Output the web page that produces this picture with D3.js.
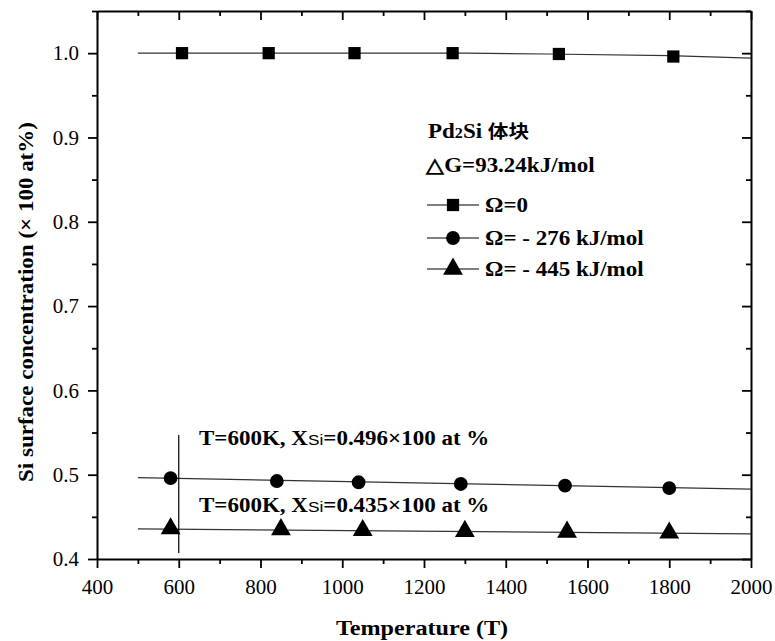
<!DOCTYPE html>
<html><head><meta charset="utf-8">
<script src="https://cdn.jsdelivr.net/npm/d3@7"></script>
<style>body{margin:0;background:#fff}svg{display:block}</style>
</head><body>
<script>
// ---- data ----
const xTicks = [400, 600, 800, 1000, 1200, 1400, 1600, 1800, 2000];
const yTicks = [0.4, 0.5, 0.6, 0.7, 0.8, 0.9, 1.0];
const seriesNames = ["Ω=0", "Ω= - 276 kJ/mol", "Ω= - 445 kJ/mol"];
const omega0T = [608, 820, 1030, 1270, 1530, 1810];
const omega0V = [1.0, 1.0, 1.0, 1.0, 0.999, 0.996];
const omega276T = [580, 840, 1040, 1290, 1545, 1800];
const omega276V = [0.496, 0.4925, 0.491, 0.489, 0.487, 0.484];
const omega445T = [580, 850, 1050, 1300, 1550, 1800];
const omega445V = [0.436, 0.435, 0.434, 0.433, 0.432, 0.431];
// fitted lines (read endpoints / bends)
const fit0T = [500, 1300, 1500, 1800, 2000];
const fit0V = [1.0, 1.0, 0.999, 0.997, 0.994];
const fit276T = [500, 2000];
const fit276V = [0.4965, 0.4828];
const fit445T = [500, 2000];
const fit445V = [0.4358, 0.4297];
const markerT = 600;
const markerRange = [0.407, 0.547];
const note1 = {pre: "T=600K, X", sub: "Si", post: "=0.496×100 at %", y: 0.5355};
const note2 = {pre: "T=600K, X", sub: "Si", post: "=0.435×100 at %", y: 0.4555};

const W = 775, H = 641;
const m = {l: 97, r: 24, t: 11, b: 82};
const SERIF = "'Liberation Serif', 'Times New Roman', serif";
const SX = 1.15; // horizontal stretch of the bold labels in the reference
const svg = d3.select("body").append("svg").attr("width", W).attr("height", H)
  .style("font-family", SERIF);

const x = d3.scaleLinear().domain([400, 2000]).range([m.l, W - m.r]);
const y = d3.scaleLinear().domain([0.4, 1.05]).range([H - m.b, m.t]);

const xMinor = d3.range(400, 2001, 100).filter(v => v % 200 !== 0);
const yMinor = d3.range(0.45, 1.051, 0.1).map(v => +v.toFixed(2));

function styleAxis(g) {
  g.attr("font-family", SERIF);
  g.select(".domain").attr("stroke", "#000").attr("stroke-width", 2);
  g.selectAll(".tick line").attr("stroke", "#000").attr("stroke-width", 1.8);
  g.selectAll("text").attr("fill", "#000").style("font-size", "21px").style("font-family", SERIF);
}
function minor(g) { g.select(".domain").remove(); g.selectAll("line").attr("stroke", "#000").attr("stroke-width", 1.8); }

const gx = svg.append("g").attr("transform", `translate(0,${y(0.4)})`)
  .call(d3.axisBottom(x).tickValues(xTicks).tickFormat(d3.format("d")).tickSize(9).tickPadding(8).tickSizeOuter(0));
styleAxis(gx);
gx.selectAll("text").attr("dy", "0.85em");
svg.append("g").attr("transform", `translate(0,${y(0.4)})`)
  .call(d3.axisBottom(x).tickValues(xMinor).tickSize(5).tickFormat("").tickSizeOuter(0)).call(minor);

const gy = svg.append("g").attr("transform", `translate(${x(400)},0)`)
  .call(d3.axisLeft(y).tickValues(yTicks).tickFormat(d3.format(".1f")).tickSize(9).tickPadding(9).tickSizeOuter(0));
styleAxis(gy);
svg.append("g").attr("transform", `translate(${x(400)},0)`)
  .call(d3.axisLeft(y).tickValues(yMinor).tickSize(5).tickFormat("").tickSizeOuter(0)).call(minor);

const gt = svg.append("g").attr("transform", `translate(0,${y(1.05)})`)
  .call(d3.axisBottom(x).tickValues(xTicks).tickSize(9).tickFormat("").tickSizeOuter(0));
styleAxis(gt);
svg.append("g").attr("transform", `translate(0,${y(1.05)})`)
  .call(d3.axisBottom(x).tickValues(xMinor).tickSize(5).tickFormat("").tickSizeOuter(0)).call(minor);
const gr = svg.append("g").attr("transform", `translate(${x(2000)},0)`)
  .call(d3.axisLeft(y).tickValues(yTicks).tickSize(9).tickFormat("").tickSizeOuter(0));
styleAxis(gr);
svg.append("g").attr("transform", `translate(${x(2000)},0)`)
  .call(d3.axisLeft(y).tickValues(yMinor).tickSize(5).tickFormat("").tickSizeOuter(0)).call(minor);

// stretched bold text helper
function label(px, py, size, rot) {
  return svg.append("text")
    .attr("transform", `translate(${px},${py})${rot ? " rotate(" + rot + ")" : ""} scale(${SX},1)`)
    .attr("font-weight", "bold").style("font-size", size + "px");
}

// axis titles
label(422, 635, 21).attr("text-anchor", "middle").text("Temperature (T)");
label(33, 302, 20, -90).attr("text-anchor", "middle").text("Si surface concentration (× 100 at%)");

// fit lines
const line = d3.line().x(d => x(d[0])).y(d => y(d[1]));
[[fit0T, fit0V], [fit276T, fit276V], [fit445T, fit445V]].forEach(([ts, vs]) => {
  svg.append("path").datum(ts.map((t, i) => [t, vs[i]])).attr("d", line)
    .attr("fill", "none").attr("stroke", "#333").attr("stroke-width", 1.2);
});

// vertical marker line at 600 K
svg.append("line").attr("x1", x(markerT)).attr("x2", x(markerT))
  .attr("y1", y(markerRange[1])).attr("y2", y(markerRange[0]))
  .attr("stroke", "#000").attr("stroke-width", 1.2);

// markers
const shapes = [d3.symbolSquare, d3.symbolCircle, d3.symbolTriangle];
const sizes = [150, 150, 170];
[[omega0T, omega0V], [omega276T, omega276V], [omega445T, omega445V]].forEach(([ts, vs], k) => {
  svg.append("g").selectAll("path").data(ts.map((t, i) => [t, vs[i]])).join("path")
    .attr("transform", d => `translate(${x(d[0])},${y(d[1])})`)
    .attr("d", d3.symbol().type(shapes[k]).size(sizes[k]))
    .attr("fill", "#000");
});

// annotations
[note1, note2].forEach(n => {
  const t = label(199, y(n.y), 20);
  t.append("tspan").text(n.pre);
  t.append("tspan").style("font-size", "15px").attr("font-weight", "normal")
    .style("font-family", "'Liberation Sans', Arial, sans-serif").text(n.sub);
  t.append("tspan").text(n.post);
});

// legend
const t1 = label(428, 138, 20);
t1.append("tspan").text("Pd");
t1.append("tspan").style("font-size", "14px").text("2");
t1.append("tspan").text("Si ");
t1.append("tspan").style("font-family", "'Noto Sans CJK SC', sans-serif").style("font-size", "18px").text("体块");
label(426, 172, 20).text("△G=93.24kJ/mol");
const legY = [205, 238, 269];
seriesNames.forEach((name, k) => {
  svg.append("line").attr("x1", 427).attr("x2", 479).attr("y1", legY[k]).attr("y2", legY[k])
    .attr("stroke", "#000").attr("stroke-width", 1.2);
  svg.append("path").attr("transform", `translate(453,${legY[k]})`)
    .attr("d", d3.symbol().type(shapes[k]).size(sizes[k])).attr("fill", "#000");
  label(485, legY[k] + 7, 20).text(name);
});
</script>
</body></html>
